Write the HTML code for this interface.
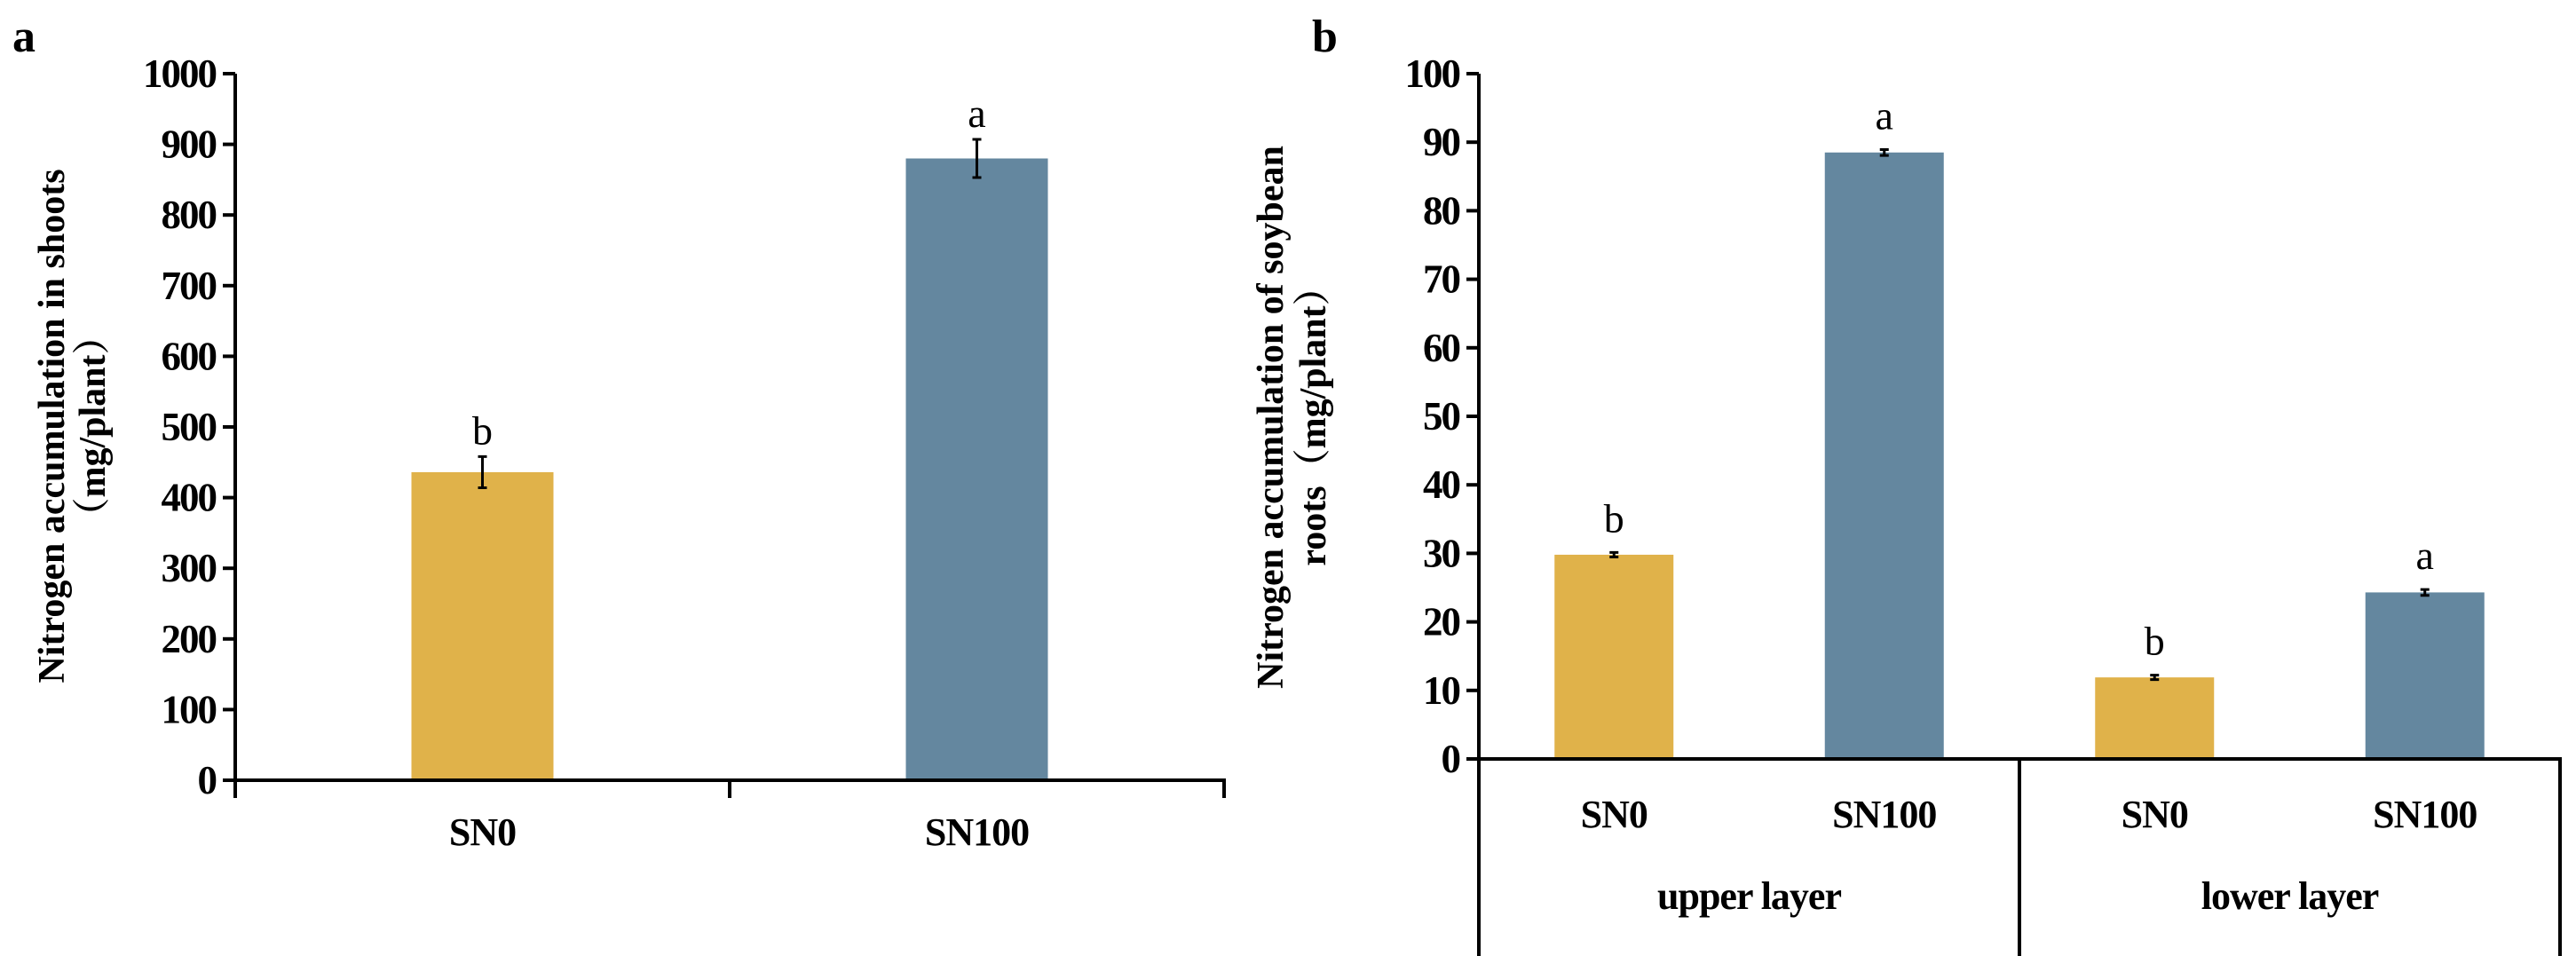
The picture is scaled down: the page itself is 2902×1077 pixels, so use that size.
<!DOCTYPE html>
<html><head><meta charset="utf-8"><style>
html,body{margin:0;padding:0;background:#fff;}
svg{display:block;font-family:"Liberation Serif","Noto Serif CJK SC",serif;}
</style></head><body>
<svg id="fig" width="2902" height="1077" viewBox="0 0 2902 1077">
<text x="14" y="58" font-size="52" font-weight="bold">a</text>
<text x="1478" y="58" font-size="52" font-weight="bold">b</text>
<g id="pa"></g>
<g id="pb"></g>
</svg>
<script>
// Panel a data
const aCategories = ["SN0", "SN100"];
const aValues = [436, 880];
const aErrors = [22, 27];
const aLetters = ["b", "a"];
const aTicks = [0,100,200,300,400,500,600,700,800,900,1000];
// Panel b data
const bCategories = ["SN0", "SN100", "SN0", "SN100"];
const bGroups = ["upper layer", "lower layer"];
const bValues = [29.8, 88.5, 11.9, 24.3];
const bErrors = [0.2, 0.3, 0.2, 0.3];
const bLetters = ["b", "a", "b", "a"];
const bTicks = [0,10,20,30,40,50,60,70,80,90,100];

const NS = "http://www.w3.org/2000/svg";
function mk(parent, tag, attrs, text){
  const e = document.createElementNS(NS, tag);
  for (const k in attrs) e.setAttribute(k, attrs[k]);
  if (text !== undefined) e.textContent = text;
  parent.appendChild(e);
  return e;
}
const colors = ["#E0B24A", "#64879F"];

// ---- Panel A ----
(function(){
  const g = document.getElementById('pa');
  const x0 = 265, x1 = 1379, yTop = 83, yBot = 879, maxV = 1000;
  const y = v => yBot - (v / maxV) * (yBot - yTop);
  const band = (x1 - x0) / aCategories.length;
  const bx = i => x0 + band * (i + 0.5);
  const bw = 160;
  aTicks.forEach(t => {
    const l = mk(g, 'line', {x1: x0 - 14, x2: x0, y1: y(t), y2: y(t), stroke: '#000', 'stroke-width': 4});
    
    
    const tx = mk(g, 'text', {x: x0 - 22, y: y(t) + 15, 'font-size': 45, 'font-weight': 'bold', 'text-anchor': 'end', 'letter-spacing': '-2'}, t);
    
    
  });
  aCategories.forEach((c, i) => {
    const r = mk(g, 'rect', {x: bx(i) - bw/2, y: y(aValues[i]), width: bw, height: yBot - y(aValues[i]), fill: colors[i]});
    
    
    const e1 = y(aValues[i] + aErrors[i]), e2 = y(aValues[i] - aErrors[i]);
    const eb = mk(g, 'path', {d: `M${bx(i)},${e1}V${e2}M${bx(i)-5},${e1}H${bx(i)+5}M${bx(i)-5},${e2}H${bx(i)+5}`, stroke: '#000', 'stroke-width': 3, fill: 'none'});
    
    
    const lt = mk(g, 'text', {x: bx(i), y: e1 - 14, 'font-size': 46, 'text-anchor': 'middle'}, aLetters[i]);
    
    
    const cl = mk(g, 'text', {x: bx(i), y: 952, 'font-size': 44, 'font-weight': 'bold', 'text-anchor': 'middle', 'letter-spacing': '-1'}, c);
    
    
  });
  const ax = mk(g, 'path', {d: `M${x0},${yTop}V${yBot+20}M${x0},${yBot}H${x1}V${yBot+20}M${x0+band},${yBot}V${yBot+20}`, stroke: '#000', 'stroke-width': 4, fill: 'none'});
  
  
  const t = mk(g, 'text', {transform: 'translate(72,480) rotate(-90)', 'font-size': 42, 'font-weight': 'bold', 'text-anchor': 'middle'});
  
  
  mk(t, 'tspan', {x: 0, dy: 0}, 'Nitrogen accumulation in shoots');
  mk(t, 'tspan', {x: 0, dy: 46}, '（mg/plant）');
})();

// ---- Panel B ----
(function(){
  const g = document.getElementById('pb');
  const x0 = 1666, x1 = 2884, yTop = 83, yBot = 855, maxV = 100;
  const y = v => yBot - (v / maxV) * (yBot - yTop);
  const band = (x1 - x0) / bCategories.length;
  const bx = i => x0 + band * (i + 0.5);
  const bw = 134;
  bTicks.forEach(t => {
    const l = mk(g, 'line', {x1: x0 - 14, x2: x0, y1: y(t), y2: y(t), stroke: '#000', 'stroke-width': 4});
    
    
    const tx = mk(g, 'text', {x: x0 - 22, y: y(t) + 15, 'font-size': 45, 'font-weight': 'bold', 'text-anchor': 'end', 'letter-spacing': '-2'}, t);
    
    
  });
  bCategories.forEach((c, i) => {
    const r = mk(g, 'rect', {x: bx(i) - bw/2, y: y(bValues[i]), width: bw, height: yBot - y(bValues[i]), fill: colors[i % 2]});
    
    
    const e1 = y(bValues[i] + bErrors[i]), e2 = y(bValues[i] - bErrors[i]);
    const eb = mk(g, 'path', {d: `M${bx(i)},${e1-1}V${e2+1}M${bx(i)-5},${e1-1}H${bx(i)+5}M${bx(i)-5},${e2+1}H${bx(i)+5}`, stroke: '#000', 'stroke-width': 3, fill: 'none'});
    
    
    const lt = mk(g, 'text', {x: bx(i), y: e1 - 24, 'font-size': 46, 'text-anchor': 'middle'}, bLetters[i]);
    
    
    const cl = mk(g, 'text', {x: bx(i), y: 932, 'font-size': 44, 'font-weight': 'bold', 'text-anchor': 'middle', 'letter-spacing': '-1'}, c);
    
    
  });
  bGroups.forEach((gname, j) => {
    const gl = mk(g, 'text', {x: x0 + band * (2*j + 1), y: 1024, 'font-size': 44, 'font-weight': 'bold', 'text-anchor': 'middle', 'letter-spacing': '-1'}, gname);
    
    
  });
  const mid = x0 + band * 2;
  const ax = mk(g, 'path', {d: `M${x0},${yTop}V1077M${x0},${yBot}H${x1}V1077M${mid},${yBot}V1077`, stroke: '#000', 'stroke-width': 4, fill: 'none'});
  
  
  const t = mk(g, 'text', {transform: 'translate(1445,470) rotate(-90)', 'font-size': 42, 'font-weight': 'bold', 'text-anchor': 'middle'});
  
  
  mk(t, 'tspan', {x: 0, dy: 0}, 'Nitrogen accumulation of soybean');
  mk(t, 'tspan', {x: 0, dy: 48}, 'roots（mg/plant）');
})();
</script>
</body></html>
